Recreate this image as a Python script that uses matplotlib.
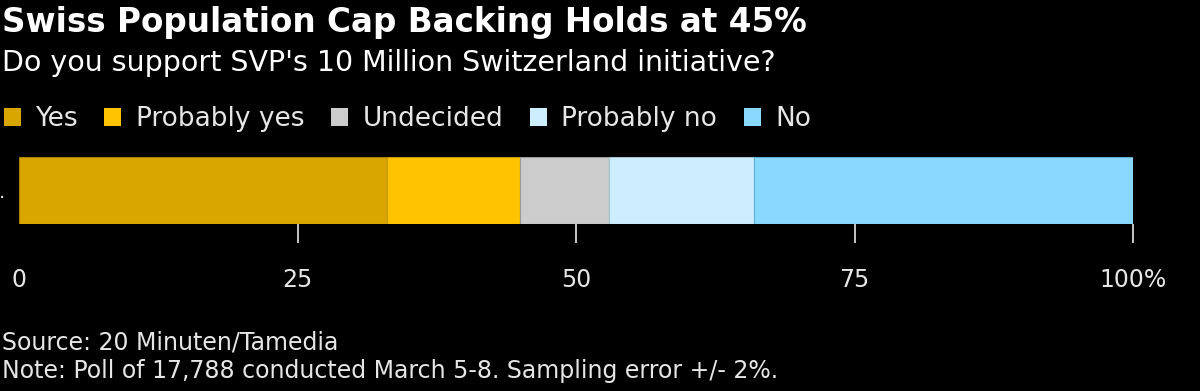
import matplotlib.pyplot as plt
from matplotlib.patches import Patch

categories = ["Yes", "Probably yes", "Undecided", "Probably no", "No"]
values = [33, 12, 8, 13, 34]
colors = ["#d9a600", "#ffc300", "#cccccc", "#cdeeff", "#88d8ff"]
edges = ["#a88000", "#c79a00", "#9a9a9a", "#9ec4d6", "#5fb0d6"]
ticks = [0, 25, 50, 75, 100]
tick_labels = ["0", "25", "50", "75", "100%"]

plt.rcParams['font.family'] = ['DejaVu Sans']

fig = plt.figure(figsize=(12, 3.91), dpi=100)
fig.patch.set_facecolor("black")
ax = fig.add_axes([19 / 1200, 1 - 224 / 391, 1114 / 1200, 67 / 391])
ax.set_facecolor("black")

left = 0
for v, c, e in zip(values, colors, edges):
    ax.barh(0, v, left=left, height=1, color=c, edgecolor=e, linewidth=0.8)
    left += v

ax.set_xlim(0, 100)
ax.set_ylim(-0.5, 0.5)
ax.set_xticks(ticks)
ax.set_xticklabels(tick_labels, color="#e6e6e6", fontsize=17)
ax.tick_params(axis="x", length=14, width=1.2, color="#e6e6e6", pad=18)
ax.set_yticks([0])
ax.set_yticklabels(["."], color="#e6e6e6", fontsize=14)
ax.tick_params(axis="y", length=0, pad=10)
for s in ax.spines.values():
    s.set_visible(False)
# no tick mark at zero
ax.xaxis.get_major_ticks()[0].tick1line.set_visible(False)

fig.text(0.002, 1 - 32 / 391, "Swiss Population Cap Backing Holds at 45%",
         color="white", fontsize=23.5, fontweight="bold", va="baseline", ha="left")
fig.text(0.002, 1 - 71 / 391, "Do you support SVP's 10 Million Switzerland initiative?",
         color="white", fontsize=20.5, va="baseline", ha="left")

handles = [Patch(facecolor=c, edgecolor="none") for c in colors]
fig.legend(handles, categories, loc="center left", bbox_to_anchor=(0.003, 1 - 119 / 391),
           ncol=5, frameon=False, fontsize=19, labelcolor="#e6e6e6",
           handlelength=0.65, handleheight=0.65, handletextpad=0.55,
           columnspacing=1.0, borderaxespad=0, borderpad=0)

fig.text(0.002, 1 - 343 / 391, "Source: 20 Minuten/Tamedia", color="#e6e6e6",
         fontsize=17, va="center", ha="left")
fig.text(0.002, 1 - 371 / 391, "Note: Poll of 17,788 conducted March 5-8. Sampling error +/- 2%.",
         color="#e6e6e6", fontsize=17, va="center", ha="left")

fig.savefig("out.png", dpi=100, facecolor="black")
